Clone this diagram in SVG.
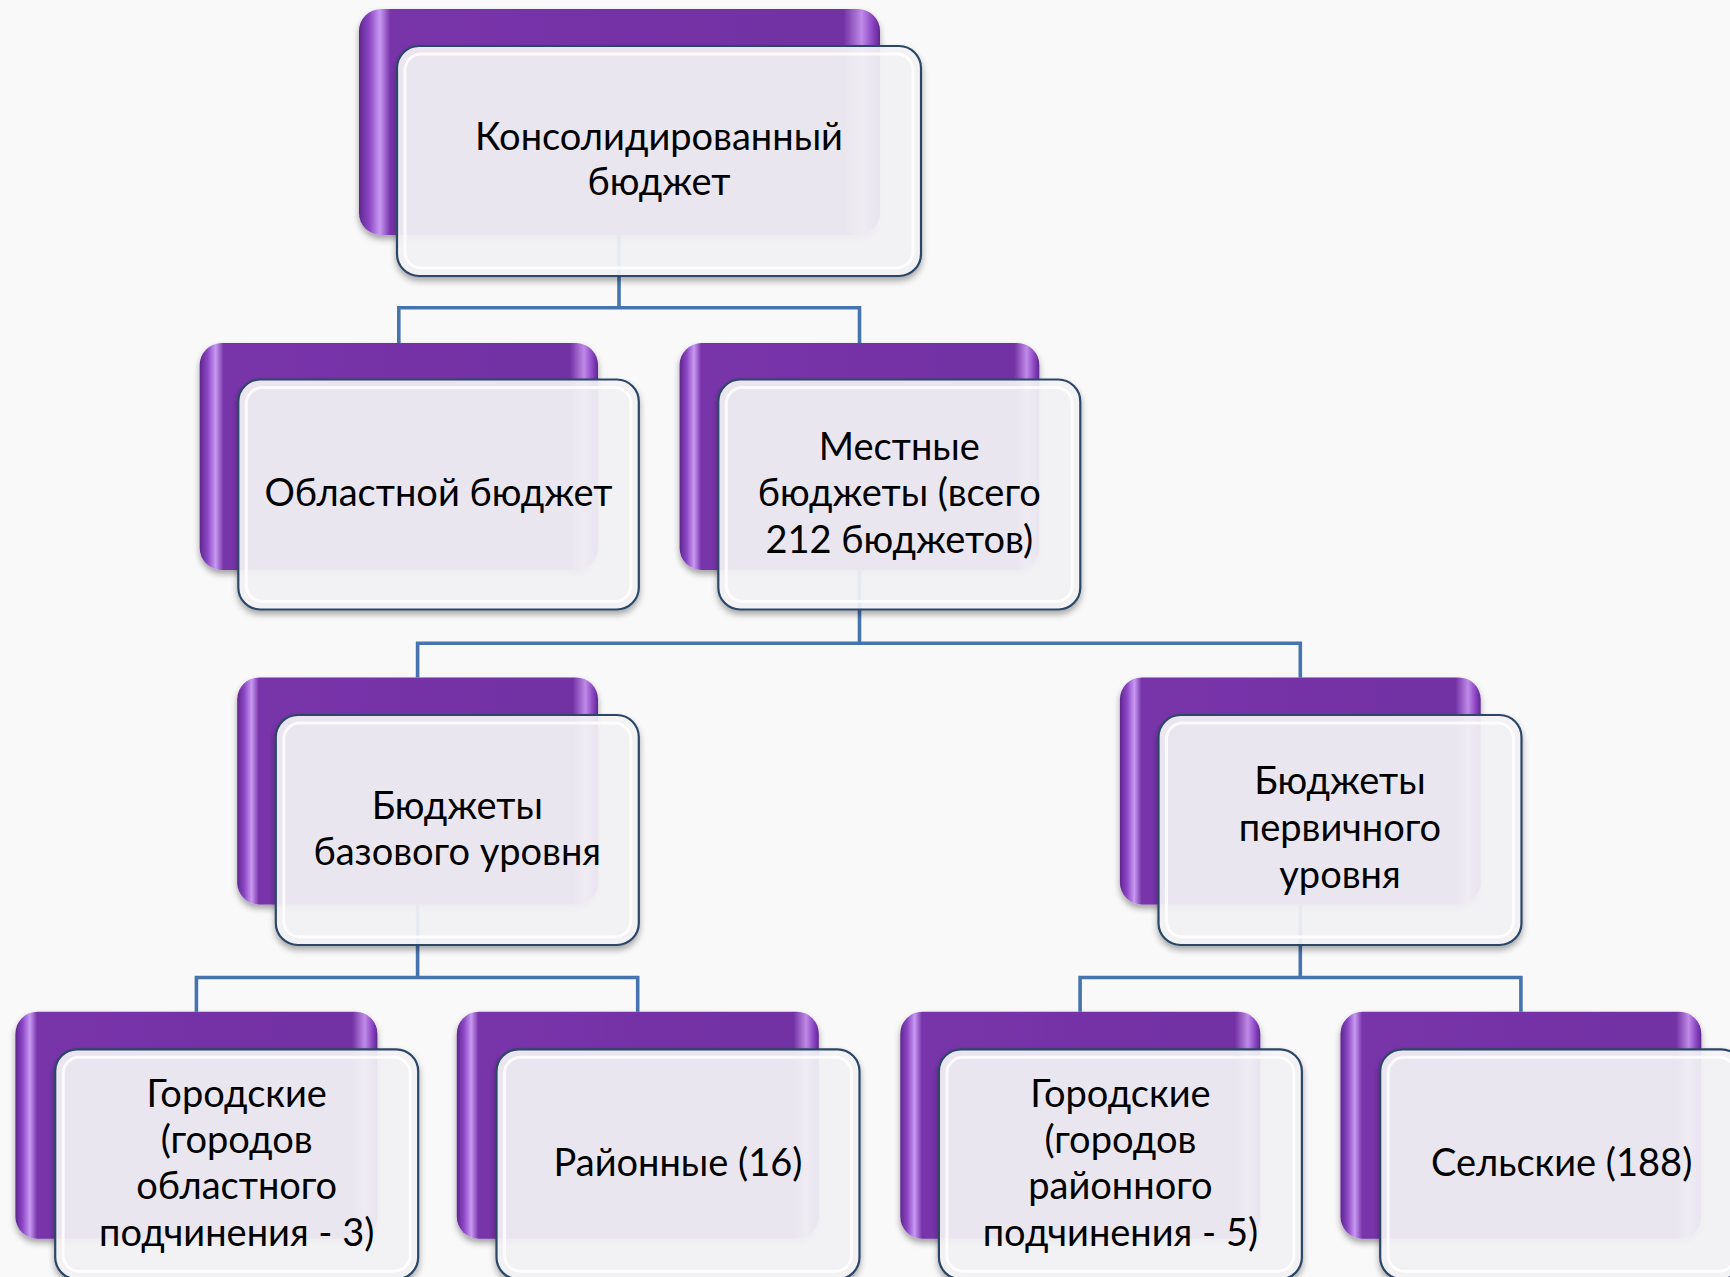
<svg xmlns="http://www.w3.org/2000/svg" width="1730" height="1277" viewBox="0 0 1730 1277">
<style>
.p{fill:url(#pg);filter:url(#sh)}
.w{fill:#f5f5f7;fill-opacity:0.91;stroke:#2c4768;stroke-width:2.2;filter:url(#sh)}
.wi{fill:none;stroke:#ffffff;stroke-opacity:0.8;stroke-width:3}
.c{fill:none;stroke:#4674ae;stroke-width:3.6}
text{font-family:"Lato","Liberation Sans",sans-serif;font-size:38px;fill:#000;text-anchor:middle}
</style>
<defs>
<linearGradient id="pg" x1="0" y1="0" x2="1" y2="0">
<stop offset="0" stop-color="#5f2590"/>
<stop offset="0.02" stop-color="#8c48c4"/>
<stop offset="0.04" stop-color="#c899f2"/>
<stop offset="0.06" stop-color="#7834aa"/>
<stop offset="0.93" stop-color="#7232a3"/>
<stop offset="0.965" stop-color="#c08ae8"/>
<stop offset="0.985" stop-color="#8c48c4"/>
<stop offset="1" stop-color="#5f2590"/>
</linearGradient>
<filter id="sh" x="-10%" y="-10%" width="120%" height="125%">
<feDropShadow dx="0" dy="4" stdDeviation="3" flood-color="#000" flood-opacity="0.35"/>
</filter>
</defs>
<rect width="1730" height="1277" fill="#f9f9fa"/>
<g id="connectors">
<path class="c" d="M619 235V307.8M398.8 343V307.8H859.5V343"/>
<path class="c" d="M859.5 570V643.2M417.6 677.4V643.2H1300.3V677.4"/>
<path class="c" d="M417.6 904.7V977.5M196.4 1011.7V977.5H637.7V1011.7"/>
<path class="c" d="M1300.3 904.7V977.5M1080.1 1011.7V977.5H1520.9V1011.7"/>
</g>
<g id="n-consolidated">
<rect class="p" x="359" y="9" width="521" height="226" rx="22"/>
<rect class="w" x="397" y="46" width="524" height="230" rx="22"/>
<rect class="wi" x="405" y="54" width="508" height="214" rx="16"/>
<text x="659" y="150">Консолидированный</text>
<text x="659" y="195">бюджет</text>
</g>
<g id="n-oblast">
<rect class="p" x="199.7" y="343" width="398.3" height="227" rx="22"/>
<rect class="w" x="238.3" y="379.5" width="400.5" height="230" rx="22"/>
<rect class="wi" x="246.3" y="387.5" width="384.5" height="214" rx="16"/>
<text x="438.5" y="506.4">Областной бюджет</text>
</g>
<g id="n-local">
<rect class="p" x="679.6" y="343" width="359.7" height="227" rx="22"/>
<rect class="w" x="718.3" y="379.5" width="362" height="230" rx="22"/>
<rect class="wi" x="726.3" y="387.5" width="346" height="214" rx="16"/>
<text x="899.3" y="460">Местные</text>
<text x="899.3" y="506.4">бюджеты (всего</text>
<text x="899.3" y="552.8">212 бюджетов)</text>
</g>
<g id="n-base">
<rect class="p" x="237.2" y="677.4" width="360.8" height="227" rx="22"/>
<rect class="w" x="275.8" y="715" width="363" height="230" rx="22"/>
<rect class="wi" x="283.8" y="723" width="347" height="214" rx="16"/>
<text x="457.3" y="818.6">Бюджеты</text>
<text x="457.3" y="865">базового уровня</text>
</g>
<g id="n-primary">
<rect class="p" x="1119.9" y="677.4" width="360.8" height="227" rx="22"/>
<rect class="w" x="1158.5" y="715" width="363" height="230" rx="22"/>
<rect class="wi" x="1166.5" y="723" width="347" height="214" rx="16"/>
<text x="1340" y="794.4">Бюджеты</text>
<text x="1340" y="840.7">первичного</text>
<text x="1340" y="888.2">уровня</text>
</g>
<g id="n-city-oblast">
<rect class="p" x="15.4" y="1011.7" width="362" height="227" rx="22"/>
<rect class="w" x="55.2" y="1049.3" width="363" height="230" rx="22"/>
<rect class="wi" x="63.2" y="1057.3" width="347" height="214" rx="16"/>
<text x="236.7" y="1106.6">Городские</text>
<text x="236.7" y="1153">(городов</text>
<text x="236.7" y="1199.3">областного</text>
<text x="236.7" y="1245.6">подчинения - 3)</text>
</g>
<g id="n-district">
<rect class="p" x="456.8" y="1011.7" width="362" height="227" rx="22"/>
<rect class="w" x="496.5" y="1049.3" width="363" height="230" rx="22"/>
<rect class="wi" x="504.5" y="1057.3" width="347" height="214" rx="16"/>
<text x="678" y="1176.1">Районные (16)</text>
</g>
<g id="n-city-district">
<rect class="p" x="900.3" y="1011.7" width="360" height="227" rx="22"/>
<rect class="w" x="938.9" y="1049.3" width="363" height="230" rx="22"/>
<rect class="wi" x="946.9" y="1057.3" width="347" height="214" rx="16"/>
<text x="1120.4" y="1106.6">Городские</text>
<text x="1120.4" y="1153">(городов</text>
<text x="1120.4" y="1199.3">районного</text>
<text x="1120.4" y="1245.6">подчинения - 5)</text>
</g>
<g id="n-rural">
<rect class="p" x="1340.5" y="1011.7" width="360.8" height="227" rx="22"/>
<rect class="w" x="1380.2" y="1049.3" width="363" height="230" rx="22"/>
<rect class="wi" x="1388.2" y="1057.3" width="347" height="214" rx="16"/>
<text x="1561.6" y="1176.1">Сельские (188)</text>
</g>
</svg>
